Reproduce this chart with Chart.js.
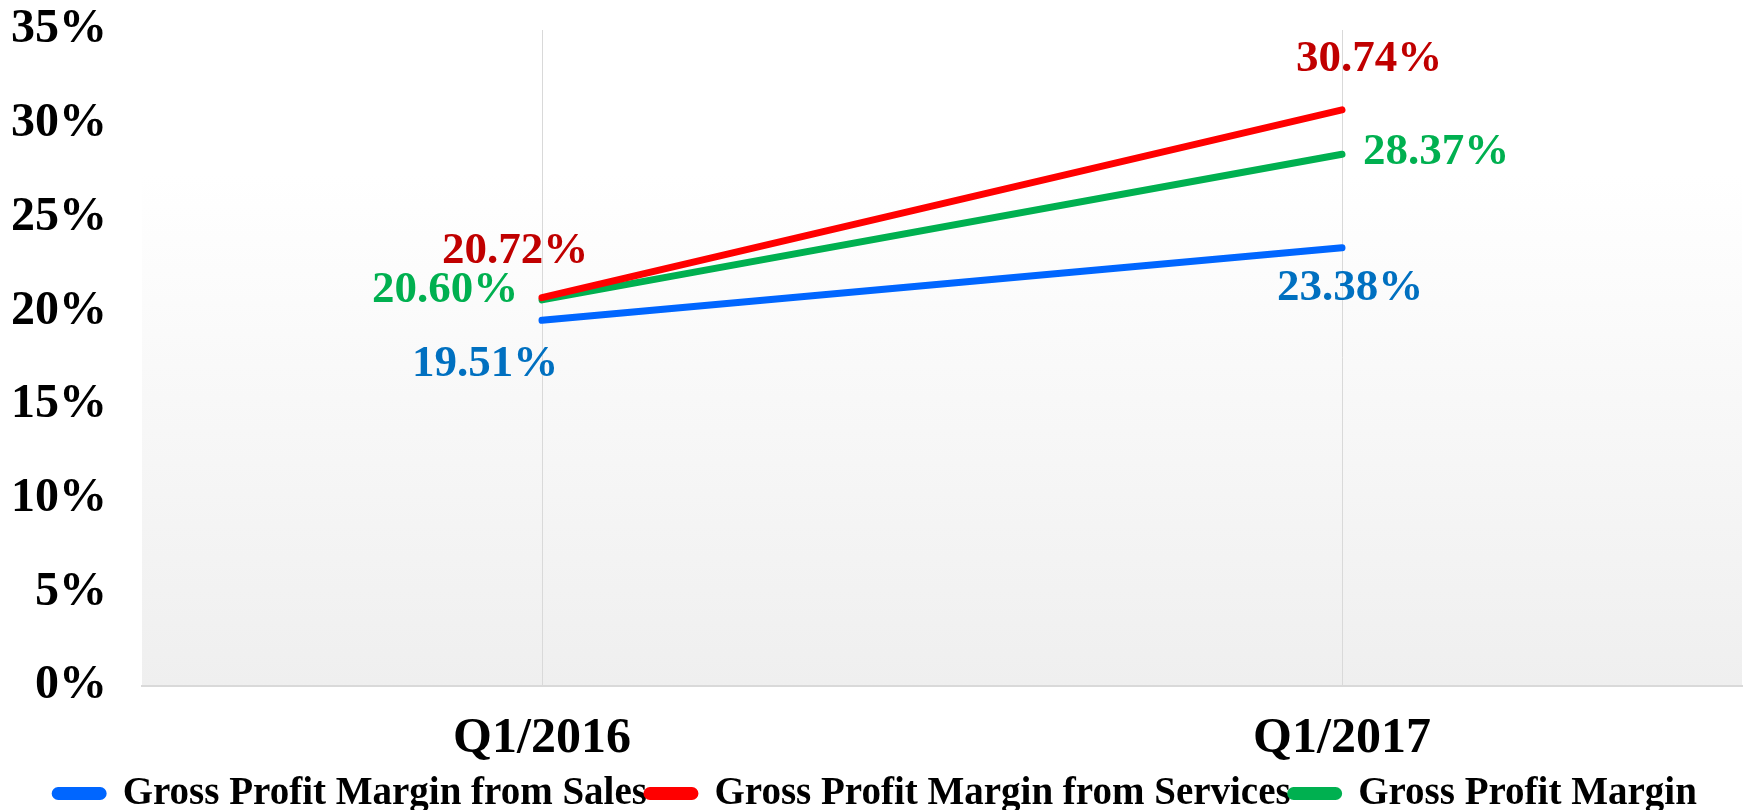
<!DOCTYPE html>
<html>
<head>
<meta charset="utf-8">
<script src="https://cdn.jsdelivr.net/npm/chart.js@4.4.0/dist/chart.umd.min.js"></script>
<style>
  html, body { margin: 0; padding: 0; background: #ffffff; }
  #wrap { width: 1744px; height: 810px; }
</style>
</head>
<body>
<div id="wrap"><canvas id="chart"></canvas></div>
<script>
const categories = ["Q1/2016", "Q1/2017"];
const salesMargin = [19.51, 23.38];
const servicesMargin = [20.72, 30.74];
const grossMargin = [20.60, 28.37];
const yTicks = [0, 5, 10, 15, 20, 25, 30, 35];

const FONT = "'Liberation Serif', 'DejaVu Serif', serif";

// label placement relative to each point (dx, dy) - per dataset, per point
const labelOffsets = [
    [[-57, 44], [8, 41]],
    [[-27, -46], [27, -50]],
    [[-97, -10], [94, -2]],
];
const labelColors = ["#0070c0", "#c00000", "#00b050"];

// plot area background: white fading to light gray
const plotBackground = {
    id: "plotBackground",
    beforeDraw(chart) {
        const { ctx, chartArea: a } = chart;
        const g = ctx.createLinearGradient(0, a.top, 0, a.bottom);
        g.addColorStop(0, "#ffffff");
        g.addColorStop(0.22, "#ffffff");
        g.addColorStop(1, "#efefef");
        ctx.save();
        ctx.fillStyle = g;
        ctx.fillRect(a.left, a.top, a.right - a.left, a.bottom - a.top);
        ctx.restore();
    }
};

// value labels next to each point
const valueLabels = {
    id: "valueLabels",
    afterDatasetsDraw(chart) {
        const ctx = chart.ctx;
        ctx.save();
        ctx.font = "bold 45px " + FONT;
        ctx.textAlign = "center";
        ctx.textBaseline = "middle";
        chart.data.datasets.forEach((ds, di) => {
            const meta = chart.getDatasetMeta(di);
            meta.data.forEach((pt, i) => {
                const off = labelOffsets[di][i];
                ctx.fillStyle = labelColors[di];
                ctx.fillText(ds.data[i].toFixed(2) + "%", pt.x + off[0], pt.y + off[1]);
            });
        });
        ctx.restore();
    }
};

new Chart(document.getElementById("chart"), {
    type: "line",
    data: {
        labels: categories,
        datasets: [
            {
                label: "Gross Profit Margin from Sales",
                data: salesMargin,
                borderColor: "#0066ff",
                backgroundColor: "#0066ff",
            },
            {
                label: "Gross Profit Margin from Services",
                data: servicesMargin,
                borderColor: "#ff0000",
                backgroundColor: "#ff0000",
            },
            {
                label: "Gross Profit Margin",
                data: grossMargin,
                borderColor: "#00b050",
                backgroundColor: "#00b050",
            },
        ],
    },
    options: {
        responsive: true,
        maintainAspectRatio: false,
        animation: false,
        elements: {
            line: { borderWidth: 7, borderCapStyle: "round", tension: 0 },
            point: { radius: 0, hoverRadius: 0 },
        },
        layout: { padding: { top: 30, right: 2, left: 10, bottom: -13 } },
        scales: {
            x: {
                offset: true,
                grid: { offset: false, color: "#d9d9d9", lineWidth: 1, drawTicks: false },
                border: { display: true, color: "#d9d9d9", width: 2 },
                ticks: {
                    color: "#000000",
                    padding: 23,
                    font: { family: FONT, size: 50, weight: "bold" },
                },
                afterFit(scale) {
                    scale.height = 88;
                    scale.paddingLeft = 0;
                    scale.paddingRight = 0;
                },
            },
            y: {
                min: 0,
                max: 35,
                afterBuildTicks(axis) {
                    axis.ticks = yTicks.map(v => ({ value: v }));
                },
                grid: { display: false, drawTicks: false },
                border: { display: false },
                ticks: {
                    color: "#000000",
                    padding: 35,
                    font: { family: FONT, size: 48, weight: "bold" },
                    callback: v => v + "%",
                },
                afterFit(scale) {
                    scale.width = 132;
                    scale.paddingTop = 0;
                    scale.paddingBottom = 0;
                },
            },
        },
        plugins: {
            legend: {
                position: "bottom",
                labels: {
                    color: "#000000",
                    boxWidth: 48,
                    boxHeight: 6,
                    padding: 0,
                    useBorderRadius: true,
                    borderRadius: 3,
                    font: { family: FONT, size: 39, weight: "bold" },
                },
            },
            tooltip: { enabled: false },
        },
    },
    plugins: [plotBackground, valueLabels],
});
</script>
</body>
</html>
